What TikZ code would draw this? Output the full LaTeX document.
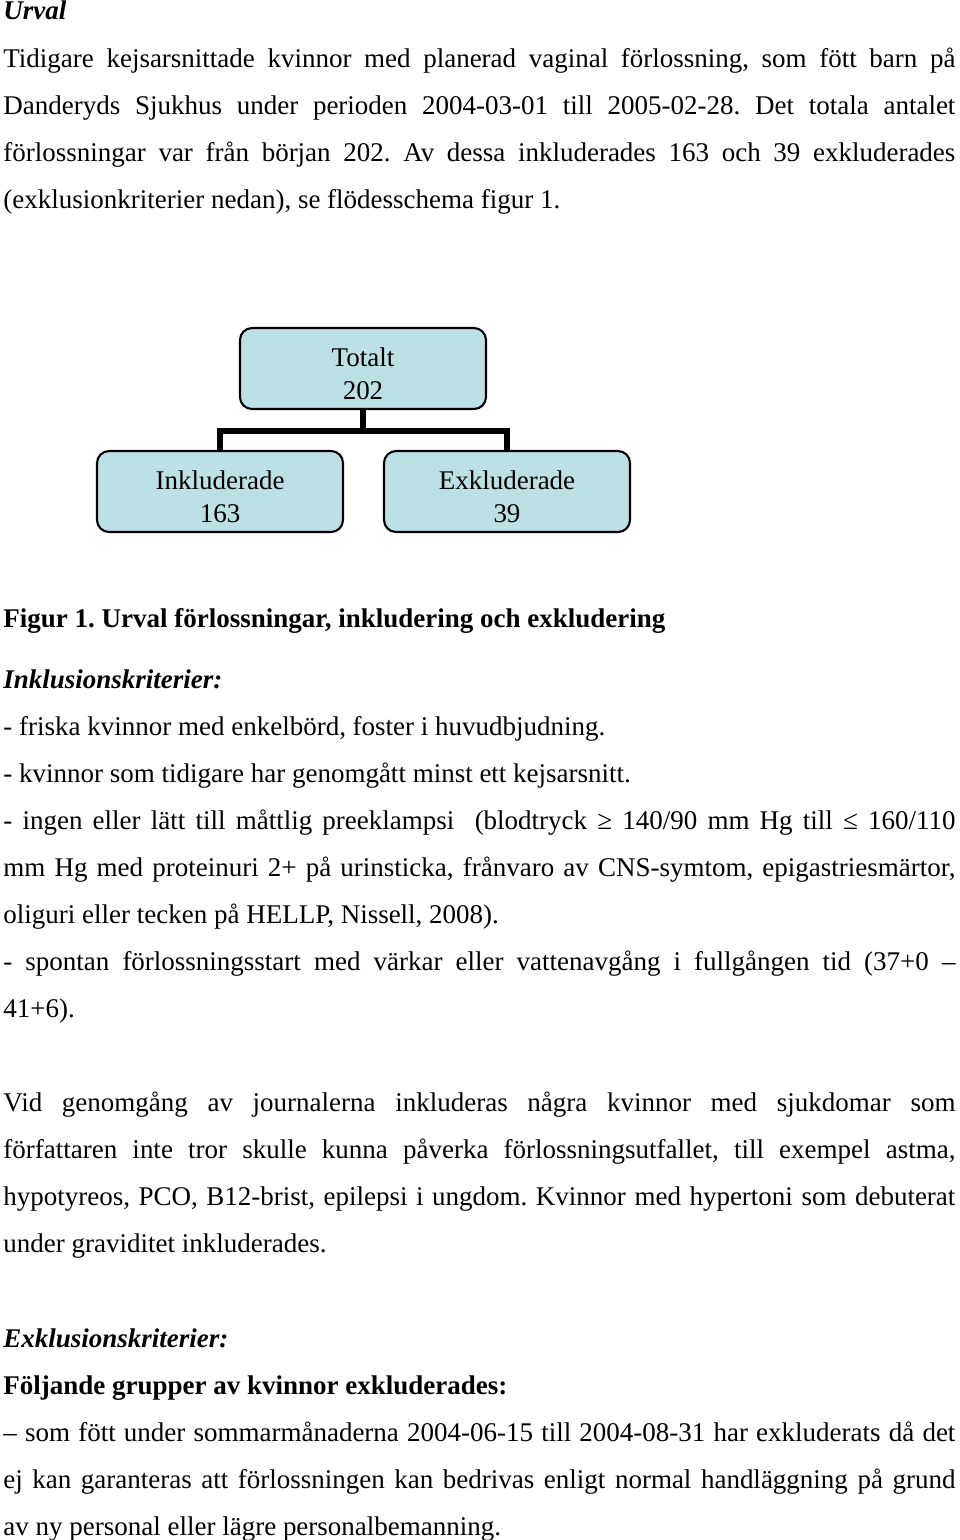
\documentclass[tikz,border=0pt]{standalone}
\usepackage{fontspec}
\setmainfont{Liberation Serif}
\usepackage{tikz}
\usetikzlibrary{calc}

\definecolor{rutafarg}{RGB}{188,224,228}
\tolerance=10000
\hyphenpenalty=10000
\frenchspacing

\newcommand{\rutatext}[2]{\raisebox{-0.133cm}[\height][\depth]{\begin{tabular}{c}
         #1\\ #2
    \end{tabular}}}

\tikzset{
    ruta/.style={rectangle, rounded corners=0.2cm, draw=black, line width=1pt, fill=rutafarg, minimum width=4.1cm, minimum height=1.35cm, inner sep=0pt, font={\fontsize{12.8pt}{15.4pt}\selectfont}},
    stycke/.style={anchor=base west, inner sep=0pt, text width=15.867cm, align=justify, font={\fontsize{12.8pt}{22.29pt}\selectfont\frenchspacing}},
    linje/.style={line width=2.4pt}
}

\begin{document}
\begin{tikzpicture}
    \useasboundingbox (0,0) rectangle (16,-25.667);

    \node (rubrik) [stycke] at (0.05,-0.333) {\textbf{\textit{Urval}}};
    \node (inledning) [stycke] at (0.05,-1.117) {Tidigare kejsarsnittade kvinnor med planerad vaginal förlossning, som fött barn på\linebreak
        Danderyds Sjukhus under perioden 2004-03-01 till 2005-02-28. Det totala antalet\linebreak
        förlossningar var från början 202. Av dessa inkluderades 163 och 39 exkluderades\linebreak
        (exklusionkriterier nedan), se flödesschema figur 1.};

    % flödesschema
    \node (tot) [ruta] at (6.05,-6.142) {\rutatext{Totalt}{202}};
    \node (ink) [ruta] at (3.667,-8.192) {\rutatext{Inkluderade}{163}};
    \node (exk) [ruta] at (8.45,-8.192) {\rutatext{Exkluderade}{39}};
    \coordinate (delning) at (6.05,-7.183);
    \draw [linje] (tot.south) -- (delning);
    \draw [linje] (ink.north) |- (delning) -| (exk.north);

    \node (figurtext) [stycke] at (0.05,-10.45) {\textbf{Figur 1. Urval förlossningar, inkludering och exkludering}};

    \node (inklusion) [stycke] at (0.05,-11.475) {\textbf{\textit{Inklusionskriterier:}}\par
        - friska kvinnor med enkelbörd, foster i huvudbjudning.\par
        - kvinnor som tidigare har genomgått minst ett kejsarsnitt.\par
        - ingen eller lätt till måttlig preeklampsi\ \ (blodtryck ≥ 140/90 mm Hg till ≤ 160/110\linebreak
        mm Hg med proteinuri 2+ på urinsticka, frånvaro av CNS-symtom, epigastriesmärtor,\linebreak
        oliguri eller tecken på HELLP, Nissell, 2008).\par
        - spontan förlossningsstart med värkar eller vattenavgång i fullgången tid (37+0 –\linebreak
        41+6).};

    \node (vid) [stycke] at (0.05,-18.517) {Vid genomgång av journalerna inkluderas några kvinnor med sjukdomar som\linebreak
        författaren inte tror skulle kunna påverka förlossningsutfallet, till exempel astma,\linebreak
        hypotyreos, PCO, B12-brist, epilepsi i ungdom. Kvinnor med hypertoni som debuterat\linebreak
        under graviditet inkluderades.};

    \node (exklusion) [stycke] at (0.05,-22.45) {\textbf{\textit{Exklusionskriterier:}}\par
        \textbf{Följande grupper av kvinnor exkluderades:}\par
        – som fött under sommarmånaderna 2004-06-15 till 2004-08-31 har exkluderats då det\linebreak
        ej kan garanteras att förlossningen kan bedrivas enligt normal handläggning på grund\linebreak
        av ny personal eller lägre personalbemanning.};
\end{tikzpicture}
\end{document}
